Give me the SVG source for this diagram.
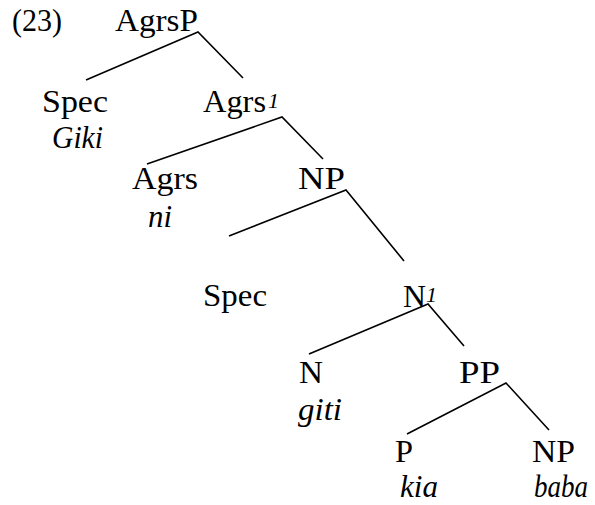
<svg xmlns="http://www.w3.org/2000/svg" width="595" height="505" viewBox="0 0 595 505">
<style>
text{font-family:"Liberation Serif","Times New Roman",serif;font-size:31px;fill:#000}
.i{font-style:italic}
.sup{font-style:italic;font-size:20px}
.edge{stroke:#000;stroke-width:1.6;fill:none;stroke-linecap:butt}
</style>
<rect width="595" height="505" fill="#fff"/>
<g id="label23"><text x="12" y="31" textLength="50" lengthAdjust="spacingAndGlyphs">(23)</text></g>
<g id="AgrsP"><text x="115" y="31" textLength="83" lengthAdjust="spacingAndGlyphs">AgrsP</text></g>
<g id="Spec1"><text x="42" y="112" textLength="66" lengthAdjust="spacingAndGlyphs">Spec</text><text class="i" x="52" y="148" textLength="51" lengthAdjust="spacingAndGlyphs">Giki</text></g>
<g id="Agrs1"><text x="203" y="112" textLength="63" lengthAdjust="spacingAndGlyphs">Agrs</text><text class="sup" x="268" y="108" textLength="11" lengthAdjust="spacingAndGlyphs">1</text></g>
<g id="Agrs"><text x="132" y="189" textLength="66" lengthAdjust="spacingAndGlyphs">Agrs</text><text class="i" x="148" y="227" textLength="24" lengthAdjust="spacingAndGlyphs">ni</text></g>
<g id="NP1"><text x="298" y="189" textLength="47" lengthAdjust="spacingAndGlyphs">NP</text></g>
<g id="Spec2"><text x="203" y="306" textLength="64" lengthAdjust="spacingAndGlyphs">Spec</text></g>
<g id="N1"><text x="403" y="307" textLength="23" lengthAdjust="spacingAndGlyphs">N</text><text class="sup" x="426" y="302" textLength="11" lengthAdjust="spacingAndGlyphs">1</text></g>
<g id="N"><text x="299" y="383" textLength="24" lengthAdjust="spacingAndGlyphs">N</text><text class="i" x="298" y="420" textLength="44" lengthAdjust="spacingAndGlyphs">giti</text></g>
<g id="PP"><text x="459" y="383" textLength="41" lengthAdjust="spacingAndGlyphs">PP</text></g>
<g id="P"><text x="395" y="462" textLength="18" lengthAdjust="spacingAndGlyphs">P</text><text class="i" x="400" y="497" textLength="38" lengthAdjust="spacingAndGlyphs">kia</text></g>
<g id="NP2"><text x="532" y="462" textLength="43" lengthAdjust="spacingAndGlyphs">NP</text><text class="i" x="534" y="497" textLength="54" lengthAdjust="spacingAndGlyphs">baba</text></g>
<g id="connectors" class="edge">
<path class="edge" d="M86 80 L198 32 L243 78"/>
<path class="edge" d="M147 164 L282 117 L323 159"/>
<path class="edge" d="M229 236 L346 190 L404 261"/>
<path class="edge" d="M309 354 L428 304 L464 346"/>
<path class="edge" d="M407 434 L506 383 L549 430"/>
</g>
</svg>
